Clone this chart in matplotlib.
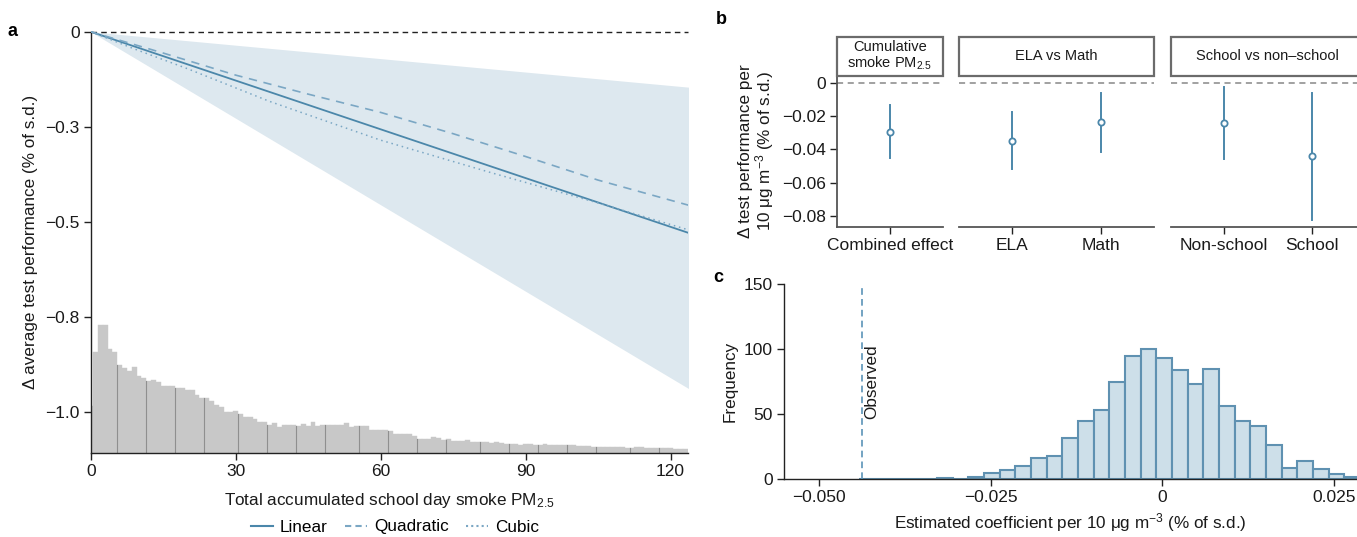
import numpy as np
import matplotlib
matplotlib.use("Agg")
import matplotlib.pyplot as plt
from matplotlib.lines import Line2D
from matplotlib.patches import Rectangle
from matplotlib import font_manager

# ---------------- data ----------------
# Panel a: model fits of test performance vs accumulated smoke PM2.5
fit_x_linear = [0, 124]
fit_y_linear = [0, -0.530]
ci_lower = [0, -0.940]
ci_upper = [0, -0.146]
fit_x_quad = [0, 15, 30, 45, 60, 75, 90, 105, 124]
fit_y_quad = [0, -0.056, -0.114, -0.164, -0.212, -0.268, -0.328, -0.390, -0.457]
fit_x_cubic = [0, 9, 20, 37, 60, 83, 105, 124]
fit_y_cubic = [0, -0.045, -0.097, -0.183, -0.285, -0.371, -0.450, -0.522]

# Panel a: exposure distribution (relative frequency, 1-unit bins centred on integers)
exposure_bins = list(range(0, 124))
exposure_freq = [47, 101, 127.3, 128, 104, 100.7, 88, 84.7, 82, 86,
                 77, 74.7, 72, 73, 70.3, 66.3, 67, 66.3, 65, 65,
                 63, 63, 58, 54.7, 55, 52, 48, 45.7, 41, 41,
                 42, 38.7, 35.7, 35.7, 33.7, 31, 31, 28, 29.7, 25.3,
                 27.7, 27.7, 27.7, 27, 28.7, 27, 30.7, 27, 28, 28,
                 28, 28, 28, 29.7, 25.7, 26.3, 26.7, 26.7, 22.3, 22.3,
                 22.3, 23, 21.3, 19, 19, 19, 19, 16.3, 14, 14,
                 14, 15.7, 14.7, 13, 14, 12, 12, 12, 12.7, 10.7,
                 10.3, 10.3, 10.3, 9.7, 10.3, 9.7, 9, 9, 9, 7.3,
                 8.7, 9, 8, 8, 8.7, 8, 7.3, 7.3, 7.3, 7.3,
                 8, 6.7, 6.7, 6.7, 6, 6, 6, 5.3, 6, 5.3,
                 5.3, 4.7, 4.7, 5.3, 5.3, 4.7, 4.3, 4.3, 5, 4.7,
                 4.3, 3.3, 3.3, 3.3]
exposure_marks = [5.5, 11.5, 17.5, 23.5, 30.5, 36.5, 42.5, 48.5, 55.5, 61.5,
                  67.5, 73.5, 80.5, 86.5, 92.5, 98.5, 104.5, 111.5, 117.5]
a_xticks = [0, 30, 60, 90, 120]
a_yticks = [0, -0.25, -0.5, -0.75, -1.0]
a_yticklabels = ["0", "\u22120.3", "\u22120.5", "\u22120.8", "\u22121.0"]

# Panel b: coefficient estimates with 95% CI
facet_titles = ["Cumulative\nsmoke PM$_{2.5}$", "ELA vs Math", "School vs non\u2013school"]
facet_cats = [["Combined effect"], ["ELA", "Math"], ["Non-school", "School"]]
facet_est = [[-0.0294], [-0.0348, -0.0238], [-0.0242, -0.0440]]
facet_lo = [[-0.0454], [-0.0520, -0.0416], [-0.0460, -0.0824]]
facet_hi = [[-0.0134], [-0.0178, -0.0060], [-0.0024, -0.0060]]
b_yticks = [0, -0.02, -0.04, -0.06, -0.08]
b_yticklabels = ["0", "\u22120.02", "\u22120.04", "\u22120.06", "\u22120.08"]

# Panel c: permutation distribution of coefficients
perm_bin_start = -0.0442
perm_bin_width = 0.00228
perm_counts = [0, 0, 0, 0, 0, 1, 0, 2, 5, 7, 10, 16, 18, 32, 45, 53, 75, 95, 100,
               93, 84, 73, 85, 56, 45, 41, 26, 9, 14, 8, 4, 2]
observed_coef = -0.0438
c_xticks = [-0.050, -0.025, 0, 0.025]
c_xticklabels = ["\u22120.050", "\u22120.025", "0", "0.025"]
c_yticks = [0, 50, 100, 150]

# ---------------- style ----------------
W, H = 1357, 537
avail = {f.name for f in font_manager.fontManager.ttflist}
base_font = "Liberation Sans" if "Liberation Sans" in avail else "DejaVu Sans"
plt.rcParams["font.family"] = [base_font, "DejaVu Sans"]
plt.rcParams["mathtext.fontset"] = "custom"
plt.rcParams["mathtext.rm"] = base_font
plt.rcParams["mathtext.it"] = base_font
plt.rcParams["axes.unicode_minus"] = True

BLUE = "#4b87aa"
BLUE_L = "#7ba7c4"
RIBBON = "#dde8ef"
TXT = "#1a1a1a"
TICKFS = 12.5
LABFS = 12.3

fig = plt.figure(figsize=(W / 100, H / 100), dpi=100)

def fx(px):
    return px / W

def fy(py):
    return 1 - py / H

def style_axes(ax):
    for s in ["top", "right"]:
        ax.spines[s].set_visible(False)
    for s in ["left", "bottom"]:
        ax.spines[s].set_linewidth(1.0)
        ax.spines[s].set_color("#222222")
    ax.tick_params(direction="out", length=5, width=1.0, color="#222222",
                   labelsize=TICKFS, labelcolor=TXT, pad=3)

# ---------------- panel a ----------------
a_left, a_right, a_top, a_bot = 90.7, 688, 30.6, 452.5
axa = fig.add_axes([fx(a_left), fy(a_bot), fx(a_right - a_left), (a_bot - a_top) / H])
style_axes(axa)
ymin_a = -1.106
axa.set_xlim(0, 123.6)
axa.set_ylim(ymin_a, 0.003)
hist_scale = 1 / 381.0
heights = np.array(exposure_freq) * hist_scale
axa.bar(exposure_bins, heights, width=1.0, bottom=ymin_a, color="#c8c8c8",
        edgecolor="#c8c8c8", linewidth=0.3, zorder=1)
for m in exposure_marks:
    i = int(m - 0.5)
    top = min(exposure_freq[i], exposure_freq[min(i + 1, len(exposure_freq) - 1)]) * hist_scale
    axa.plot([m, m], [ymin_a, ymin_a + top], color="#8f8f8f", lw=0.8, zorder=2)
axa.fill_between(fit_x_linear, ci_lower, ci_upper, color=RIBBON, lw=0, zorder=0.5)
axa.axhline(0, color="#222222", lw=1.0, ls=(0, (4, 3)), zorder=3, clip_on=False)
axa.plot(fit_x_linear, fit_y_linear, color=BLUE, lw=1.3, zorder=4)
axa.plot(fit_x_quad, fit_y_quad, color=BLUE_L, lw=1.2, ls=(0, (5, 4)), zorder=4)
axa.plot(fit_x_cubic, fit_y_cubic, color=BLUE_L, lw=1.1, ls=(0, (1, 2.5)), zorder=4)
axa.set_xticks(a_xticks)
axa.set_yticks(a_yticks)
axa.set_yticklabels(a_yticklabels)
axa.spines["left"].set_bounds(ymin_a, 0)
axa.set_ylabel("\u0394 average test performance (% of s.d.)", fontsize=LABFS, color=TXT, labelpad=5)
axa.set_xlabel("Total accumulated school day smoke PM$_{2.5}$", fontsize=LABFS, color=TXT, labelpad=9)

leg_handles = [Line2D([], [], color=BLUE, lw=1.5),
               Line2D([], [], color=BLUE_L, lw=1.5, ls=(0, (3, 2))),
               Line2D([], [], color=BLUE_L, lw=1.5, ls=(0, (1, 1.5)))]
fig.legend(leg_handles, ["Linear", "Quadratic", "Cubic"], loc="center",
           bbox_to_anchor=(fx(395), fy(527)), ncol=3, frameon=False, fontsize=LABFS,
           handlelength=1.3, handletextpad=0.4, columnspacing=1.0, borderpad=0.1)

# ---------------- panel b ----------------
b_top, b_bot = 75.0, 226.7
b_ylim = (-0.0864, 0.0046)
facet_lefts = [836.8, 959.4, 1170.7]
unit = 88.3
for k in range(3):
    n = len(facet_cats[k])
    width_px = unit * (n - 1 + 1.2)
    ax = fig.add_axes([fx(facet_lefts[k]), fy(b_bot), fx(width_px), (b_bot - b_top) / H])
    style_axes(ax)
    ax.set_ylim(*b_ylim)
    ax.set_xlim(-0.6, n - 1 + 0.6)
    pos = np.arange(n)
    ax.axhline(0, color="#888888", lw=1.1, ls=(0, (4, 3)), zorder=1)
    for j in range(n):
        ax.plot([pos[j], pos[j]], [facet_lo[k][j], facet_hi[k][j]], color=BLUE, lw=1.4, zorder=2)
    ax.plot(pos, facet_est[k], "o", ms=4.5, mfc="white", mec=BLUE, mew=1.3, zorder=3, ls="none")
    ax.set_xticks(pos)
    ax.set_xticklabels(facet_cats[k])
    ax.spines["bottom"].set_color("#555555")
    ax.spines["bottom"].set_linewidth(1.3)
    if k == 0:
        ax.set_yticks(b_yticks)
        ax.set_yticklabels(b_yticklabels)
        ax.spines["left"].set_color("#555555")
        ax.spines["left"].set_linewidth(1.3)
        ax.set_ylabel("\u0394 test performance per\n10 \u03bcg m$^{\u22123}$ (% of s.d.)",
                      fontsize=LABFS, color=TXT, labelpad=4, linespacing=1.0)
    else:
        ax.spines["left"].set_visible(False)
        ax.tick_params(axis="y", left=False, labelleft=False)
    # strip
    strip = Rectangle((fx(facet_lefts[k]), fy(75.5)), fx(width_px), (75.5 - 37) / H,
                      transform=fig.transFigure, facecolor="white", edgecolor="#6b6b6b",
                      lw=1.6, zorder=5)
    fig.add_artist(strip)
    fig.text(fx(facet_lefts[k] + width_px / 2), fy(56), facet_titles[k], ha="center",
             va="center", fontsize=10.5, color=TXT, linespacing=1.0, zorder=6)

# ---------------- panel c ----------------
c_left, c_top, c_bot = 783.7, 284, 479.3
axc = fig.add_axes([fx(c_left), fy(c_bot), 1 - fx(c_left), (c_bot - c_top) / H])
style_axes(axc)
axc.set_xlim(-0.05515, 0.02835)
axc.set_ylim(0, 150)
edges = perm_bin_start + perm_bin_width * np.arange(len(perm_counts))
axc.bar(edges, perm_counts, width=perm_bin_width, align="edge", color="#cddfe9",
        edgecolor="#5f91b1", linewidth=1.5, zorder=2)
axc.axvline(observed_coef, ymax=0.985, color="#5b93b8", lw=1.2, ls=(0, (4, 2.5)), zorder=3)
axc.text(observed_coef + 0.0004, 75, "Observed", rotation=90, ha="left", va="center",
         fontsize=LABFS, color=TXT)
axc.set_xticks(c_xticks)
axc.set_xticklabels(c_xticklabels)
axc.set_yticks(c_yticks)
axc.set_ylabel("Frequency", fontsize=LABFS, color=TXT, labelpad=4)
axc.set_xlabel("Estimated coefficient per 10 \u03bcg m$^{\u22123}$ (% of s.d.)",
               fontsize=LABFS, color=TXT, labelpad=4)

# ---------------- panel letters ----------------
fig.text(fx(8), fy(32), "a", fontsize=13, fontweight="bold", va="center", ha="left")
fig.text(fx(716), fy(20), "b", fontsize=13, fontweight="bold", va="center", ha="left")
fig.text(fx(713), fy(278), "c", fontsize=13, fontweight="bold", va="center", ha="left")

fig.savefig("out.png", dpi=100)
